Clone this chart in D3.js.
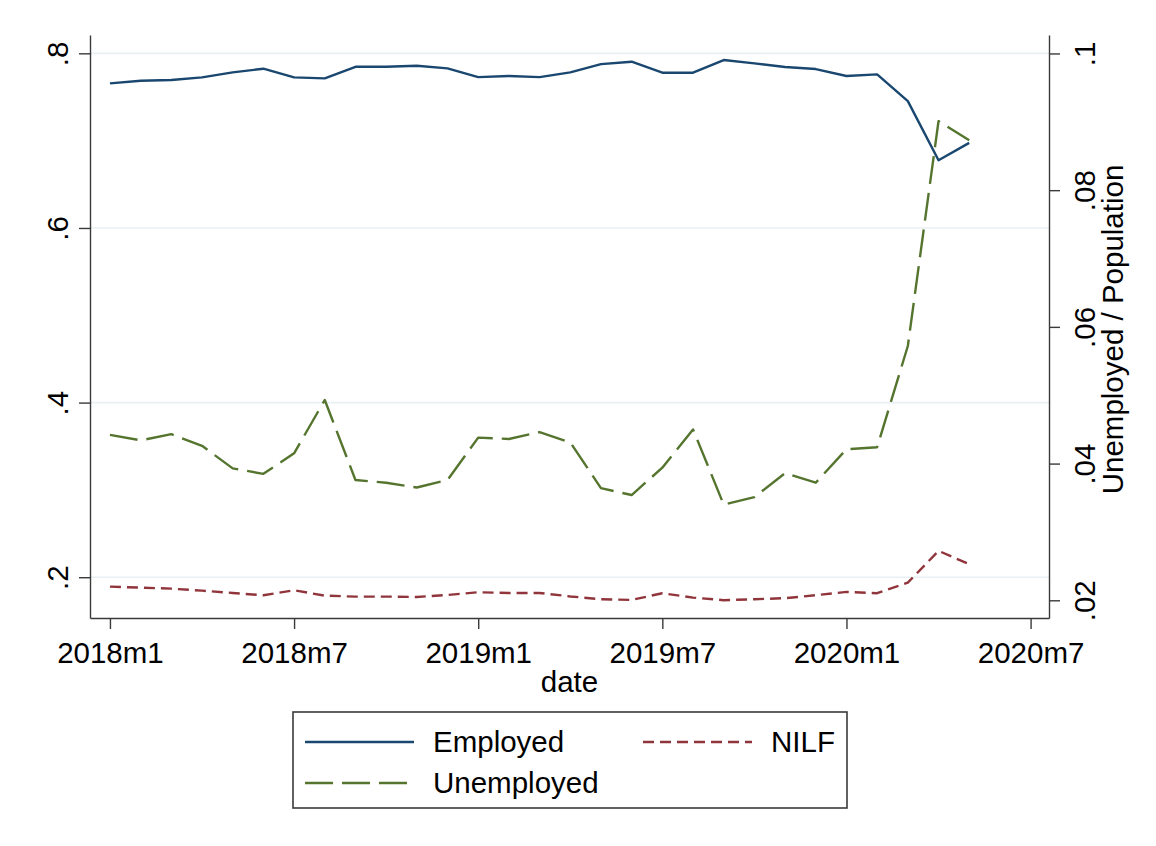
<!DOCTYPE html>
<html>
<head>
<meta charset="utf-8">
<script src="https://cdn.jsdelivr.net/npm/d3@7"></script>
<style>
  body { margin: 0; background: #ffffff; }
  svg { display: block; }
  text { font-family: "Liberation Sans", Arial, sans-serif; fill: #000; }
</style>
</head>
<body>
<div id="chart"></div>
<script>
// Monthly series, 2018m1 .. 2020m5
var months = ["2018m1","2018m2","2018m3","2018m4","2018m5","2018m6","2018m7","2018m8","2018m9","2018m10","2018m11","2018m12",
              "2019m1","2019m2","2019m3","2019m4","2019m5","2019m6","2019m7","2019m8","2019m9","2019m10","2019m11","2019m12",
              "2020m1","2020m2","2020m3","2020m4","2020m5"];

var employed = [0.7656,0.7686,0.7694,0.7725,0.7782,0.7824,0.7725,0.7713,0.7846,0.7846,0.7858,0.7828,
                0.7728,0.7740,0.7728,0.7782,0.7877,0.7904,0.7778,0.7778,0.7923,0.7885,0.7843,0.7820,
                0.7740,0.7759,0.7453,0.6776,0.6975];

var unemployed = [0.0442,0.0434,0.0443,0.0426,0.0393,0.0385,0.0415,0.0493,0.0376,0.0372,0.0365,0.0376,
                  0.0438,0.0436,0.0446,0.0431,0.0364,0.0354,0.0394,0.0450,0.0340,0.0351,0.0386,0.0372,
                  0.0421,0.0424,0.0572,0.0901,0.0873];

var nilf = [0.1892,0.1881,0.1869,0.1846,0.1820,0.1793,0.1851,0.1789,0.1778,0.1778,0.1774,0.1797,
            0.1828,0.1820,0.1820,0.1780,0.1748,0.1740,0.1817,0.1766,0.1737,0.1748,0.1760,0.1794,
            0.1832,0.1817,0.1938,0.2302,0.2149];

// Tick values and labels
var xTickLabels = ["2018m1","2018m7","2019m1","2019m7","2020m1","2020m7"];
var leftTicks = [0.2, 0.4, 0.6, 0.8];
var leftTickLabels = [".2", ".4", ".6", ".8"];
var rightTicks = [0.02, 0.04, 0.06, 0.08, 0.1];
var rightTickLabels = [".02", ".04", ".06", ".08", ".1"];

//Set up SVG:
var svgWidth = 1156;
var svgHeight = 846;

// plot region edges
var plot = { left: 90, right: 1049, top: 35, bottom: 618 };

var svg = d3.select("#chart")
    .append("svg")
    .attr("width", svgWidth)
    .attr("height", svgHeight);

// month label -> index from 2018m1
function monthIndex(s) {
    var p = s.split("m");
    return (+p[0] - 2018) * 12 + (+p[1] - 1);
}

//Scales:
var x = d3.scaleLinear()
    .domain([-0.65, 30.6])
    .range([plot.left, plot.right]);
var yLeft = d3.scaleLinear()
    .domain([0.1533, 0.821])
    .range([plot.bottom, plot.top]);
var yRight = d3.scaleLinear()
    .domain([0.01741, 0.1027])
    .range([plot.bottom, plot.top]);

//Gridlines at the left axis ticks:
svg.append("g")
    .selectAll("line")
    .data(leftTicks)
    .enter()
    .append("line")
    .attr("x1", plot.left)
    .attr("x2", plot.right)
    .attr("y1", d => yLeft(d))
    .attr("y2", d => yLeft(d))
    .attr("stroke", "#e9f0f3")
    .attr("stroke-width", 1.6);

var axisColor = "#3a3a3a";
var fontSize = 29.5;

function styleAxis(g) {
    g.selectAll("path.domain").attr("stroke", axisColor).attr("stroke-width", 1.4);
    g.selectAll(".tick line").attr("stroke", axisColor).attr("stroke-width", 1.4);
    g.selectAll(".tick text")
        .attr("font-size", fontSize)
        .attr("font-family", "Liberation Sans, Arial, sans-serif")
        .attr("fill", "#000");
}

//X axis:
var bottomAxis = d3.axisBottom(x)
    .tickValues(xTickLabels.map(monthIndex))
    .tickFormat((d, i) => xTickLabels[i])
    .tickSize(11)
    .tickSizeOuter(0);

var xAxis = svg.append("g")
    .attr("transform", `translate(0, ${plot.bottom})`)
    .call(bottomAxis)
    .call(styleAxis);
xAxis.selectAll(".tick text")
    .attr("y", 45)
    .attr("dy", 0);

//Left axis:
var leftAxis = d3.axisLeft(yLeft)
    .tickValues(leftTicks)
    .tickFormat((d, i) => leftTickLabels[i])
    .tickSize(11)
    .tickSizeOuter(0);

var yAxisL = svg.append("g")
    .attr("transform", `translate(${plot.left}, 0)`)
    .call(leftAxis)
    .call(styleAxis);
yAxisL.selectAll(".tick text")
    .attr("x", 0)
    .attr("dy", 0)
    .attr("text-anchor", "middle")
    .attr("transform", "translate(-22, 0) rotate(-90)");

//Right axis:
var rightAxis = d3.axisRight(yRight)
    .tickValues(rightTicks)
    .tickFormat((d, i) => rightTickLabels[i])
    .tickSize(11)
    .tickSizeOuter(0);

var yAxisR = svg.append("g")
    .attr("transform", `translate(${plot.right}, 0)`)
    .call(rightAxis)
    .call(styleAxis);
yAxisR.selectAll(".tick text")
    .attr("x", 0)
    .attr("dy", 0)
    .attr("text-anchor", "middle")
    .attr("transform", "translate(46, 0) rotate(-90)");

//Axis titles:
svg.append("text")
    .attr("x", (plot.left + plot.right) / 2)
    .attr("y", 692)
    .attr("text-anchor", "middle")
    .attr("font-size", fontSize)
    .text("date");

svg.append("text")
    .attr("transform", `translate(1123, ${(plot.top + plot.bottom) / 2 + 3}) rotate(-90)`)
    .attr("text-anchor", "middle")
    .attr("font-size", fontSize)
    .text("Unemployed / Population");

//Series:
var series = [
    { name: "Employed", values: employed, scale: yLeft, color: "#1a476f", dash: null, width: 2.4 },
    { name: "Unemployed", values: unemployed, scale: yRight, color: "#55752f", dash: "28,9", width: 2.4 },
    { name: "NILF", values: nilf, scale: yLeft, color: "#90353b", dash: "11,6", width: 2.4 }
];

series.forEach(function(s) {
    var line = d3.line()
        .x((d, i) => x(monthIndex(months[i])))
        .y(d => s.scale(d));
    svg.append("path")
        .datum(s.values)
        .attr("d", line)
        .attr("fill", "none")
        .attr("stroke", s.color)
        .attr("stroke-width", s.width)
        .attr("stroke-linejoin", "round")
        .attr("stroke-dasharray", s.dash);
});

//Legend:
var legend = svg.append("g");
legend.append("rect")
    .attr("x", 293)
    .attr("y", 712)
    .attr("width", 554)
    .attr("height", 96)
    .attr("fill", "#fff")
    .attr("stroke", axisColor)
    .attr("stroke-width", 1.6);

var legendPos = [
    { x: 305, y: 742 },   // Employed
    { x: 305, y: 783 },   // Unemployed
    { x: 643, y: 742 }    // NILF
];

series.forEach(function(s, i) {
    var p = legendPos[i];
    legend.append("line")
        .attr("x1", p.x)
        .attr("x2", p.x + 109)
        .attr("y1", p.y)
        .attr("y2", p.y)
        .attr("stroke", s.color)
        .attr("stroke-width", s.width)
        .attr("stroke-dasharray", s.dash);
    legend.append("text")
        .attr("x", p.x + 128)
        .attr("y", p.y + 10)
        .attr("font-size", fontSize)
        .text(s.name);
});
</script>
</body>
</html>
